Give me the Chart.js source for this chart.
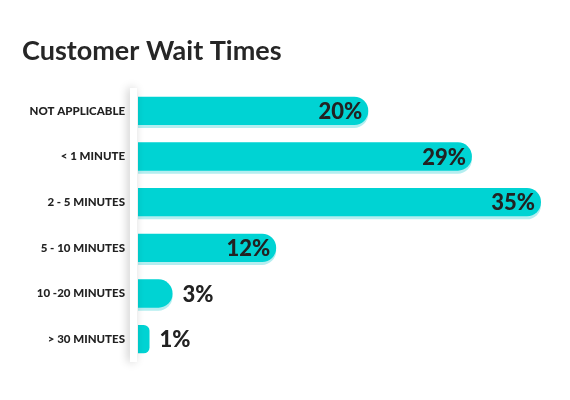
<!DOCTYPE html>
<html><head><meta charset="utf-8">
<script src="https://cdn.jsdelivr.net/npm/chart.js@4"></script>
<style>html,body{margin:0;padding:0;background:#fff;}#wrap{width:570px;height:400px;position:relative;}</style>
</head><body><div id="wrap"><canvas id="c"></canvas></div>
<script>
const titleText = "Customer Wait Times";
const categories = ["NOT APPLICABLE", "< 1 MINUTE", "2 - 5 MINUTES", "5 - 10 MINUTES", "10 -20 MINUTES", "> 30 MINUTES"];
const values = [20, 29, 35, 12, 3, 1];
const valueLabels = ["20%", "29%", "35%", "12%", "3%", "1%"];

const BAR = '#00d3d3', SHADOW = '#b4eef0', INK = '#222222';

function rr(ctx, x, y, w, h, r) {
  r = Math.min(r, h / 2, w);
  ctx.beginPath();
  ctx.moveTo(x, y);
  ctx.lineTo(x + w - r, y);
  ctx.arc(x + w - r, y + r, r, -Math.PI / 2, 0);
  ctx.lineTo(x + w, y + h - r);
  ctx.arc(x + w - r, y + h - r, r, 0, Math.PI / 2);
  ctx.lineTo(x, y + h);
  ctx.closePath();
}

const deco = {
  id: 'deco',
  beforeDatasetsDraw(chart) {
    const ctx = chart.ctx, meta = chart.getDatasetMeta(0);
    ctx.save();
    ctx.fillStyle = SHADOW;
    meta.data.forEach((b, i) => {
      if (values[i] < 2) return;
      const h = b.height;
      rr(ctx, b.base, b.y - h / 2 + 3, b.x - b.base, h, h / 2);
      ctx.fill();
    });
    ctx.restore();
  },
  afterDatasetsDraw(chart) {
    const ctx = chart.ctx, a = chart.chartArea, meta = chart.getDatasetMeta(0);
    ctx.save();
    ctx.shadowColor = 'rgba(0,0,0,0.22)';
    ctx.shadowBlur = 10;
    ctx.shadowOffsetX = -2;
    ctx.fillStyle = '#ffffff';
    ctx.fillRect(a.left - 8, a.top, 7, a.bottom - a.top);
    ctx.restore();
    ctx.save();
    ctx.font = '900 22px Lato';
    ctx.fillStyle = INK;
    ctx.textBaseline = 'middle';
    meta.data.forEach((b, i) => {
      const w = ctx.measureText(valueLabels[i]).width;
      if (b.x - b.base > w + 16) {
        ctx.textAlign = 'right';
        ctx.fillText(valueLabels[i], b.x - 6, b.y + 1);
      } else {
        ctx.textAlign = 'left';
        ctx.fillText(valueLabels[i], b.x + 10, b.y + 1);
      }
    });
    ctx.font = 'bold 27px Lato';
    ctx.textAlign = 'left';
    ctx.textBaseline = 'alphabetic';
    ctx.fillStyle = '#262626';
    ctx.fillText(titleText, 22, 60);
    ctx.restore();
  }
};

new Chart(document.getElementById('c'), {
  type: 'bar',
  data: {
    labels: categories,
    datasets: [{
      data: values,
      backgroundColor: BAR,
      borderSkipped: false,
      borderRadius: {topLeft: 0, bottomLeft: 0, topRight: 14, bottomRight: 14},
      categoryPercentage: 1,
      barPercentage: 0.62
    }]
  },
  options: {
    indexAxis: 'y',
    responsive: true,
    maintainAspectRatio: false,
    animation: false,
    layout: {padding: {top: 88, bottom: 38, left: 0, right: 6}},
    plugins: {legend: {display: false}, tooltip: {enabled: false}, title: {display: false}},
    scales: {
      x: {min: 0, max: 37, display: false},
      y: {
        grid: {display: false, drawTicks: false},
        border: {display: false},
        ticks: {color: INK, font: {family: 'Lato', weight: '900', size: 11.5}, padding: 13},
        afterFit(s) { s.width = 138; }
      }
    }
  },
  plugins: [deco]
});
</script></body></html>
